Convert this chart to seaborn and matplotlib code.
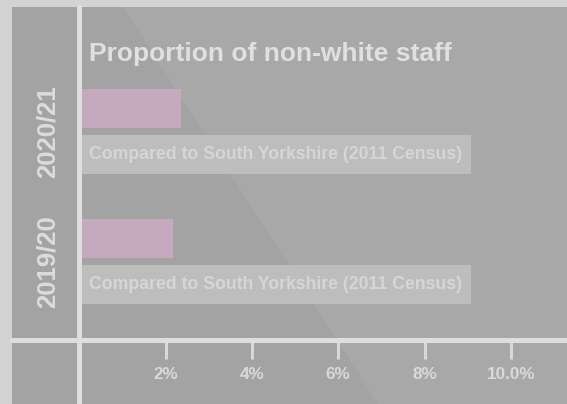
import matplotlib
matplotlib.use("Agg")
import matplotlib.pyplot as plt
import seaborn as sns
import pandas as pd
from matplotlib.lines import Line2D
from matplotlib.patches import Polygon

# ---- data ----
years = ["2020/21", "2019/20"]
staff_pct = [2.36, 2.17]
census_pct = [9.08, 9.08]
series_names = ["Non-white staff", "Compared to South Yorkshire (2011 Census)"]
tick_values = [2, 4, 6, 8, 10]
tick_labels = ["2%", "4%", "6%", "8%", "10.0%"]
title = "Proportion of non-white staff"
bar_note = "Compared to South Yorkshire (2011 Census)"

df = pd.DataFrame({
    "year": years * 2,
    "value": staff_pct + census_pct,
    "series": [series_names[0]] * len(years) + [series_names[1]] * len(years),
})

sns.set_theme(style="white")
plt.rcParams["font.family"] = ["Liberation Sans", "DejaVu Sans"]
plt.rcParams["font.weight"] = "bold"

W, H = 567, 404
fig = plt.figure(figsize=(W / 100, H / 100), dpi=100, facecolor="#d3d3d3")

# panel background with subtle diagonal
bg = fig.add_axes([12 / W, 0, (W - 12) / W, (H - 7) / H])
bg.set_xlim(12, W)
bg.set_ylim(H, 7)
bg.add_patch(Polygon([(12, 7), (W, 7), (W, H), (12, H)], closed=True,
                     facecolor="#a8a8a8", edgecolor="none"))
bg.add_patch(Polygon([(12, 7), (123, 7), (378, H), (12, H)], closed=True,
                     facecolor="#a3a3a3", edgecolor="none"))
bg.axis("off")

x0 = 79.3
px_per_unit = 43.15
top, bottom = 7, 340
ax = fig.add_axes([x0 / W, (H - bottom) / H, (W - x0) / W, (bottom - top) / H])
ax.patch.set_alpha(0)

sns.barplot(data=df, x="value", y="year", hue="series", orient="h",
            palette=["#c5aabf", "#bdbdbd"], width=0.71, gap=0.15,
            saturation=1, legend=False, ax=ax, errorbar=None, linewidth=0)

ax.set_xlim(0, (W - x0) / px_per_unit)
c0 = 131.5
grp = 130.0
ax.set_ylim((bottom - c0) / grp, (top - c0) / grp)

for s in ax.spines.values():
    s.set_visible(False)
ax.set_xlabel(""); ax.set_ylabel("")

ax.set_xticks(tick_values)
ax.set_xticklabels(tick_labels, fontsize=12.3, fontweight="bold", color="#d9d9d9")
ax.tick_params(axis="x", direction="out", length=13.7, width=2.2, color="#d9d9d9",
               pad=6, bottom=True)
ax.set_yticks(range(len(years)))
ax.set_yticklabels(years, rotation=90, va="center", fontsize=18.5,
                   fontweight="bold", color="#dcdcdc")
ax.tick_params(axis="y", length=0, pad=14)

# notes inside the census bars
for i, yr in enumerate(years):
    ax.text(0.23, i + 0.177, bar_note, va="center", ha="left",
            fontsize=12.7, fontweight="bold", color="#d6d6d6")

# title
fig.text(89 / W, 1 - 61 / H, title, fontsize=19, fontweight="bold",
         color="#e0e0e0", va="baseline", ha="left")

# axis lines
fig.add_artist(Line2D([x0 / W, x0 / W], [0, 1 - 7 / H], transform=fig.transFigure,
                      color="#dedede", lw=3.6))
fig.add_artist(Line2D([12 / W, 1], [1 - bottom / H, 1 - bottom / H],
                      transform=fig.transFigure, color="#dedede", lw=3.6))

fig.savefig("out.png", dpi=100, facecolor=fig.get_facecolor())
